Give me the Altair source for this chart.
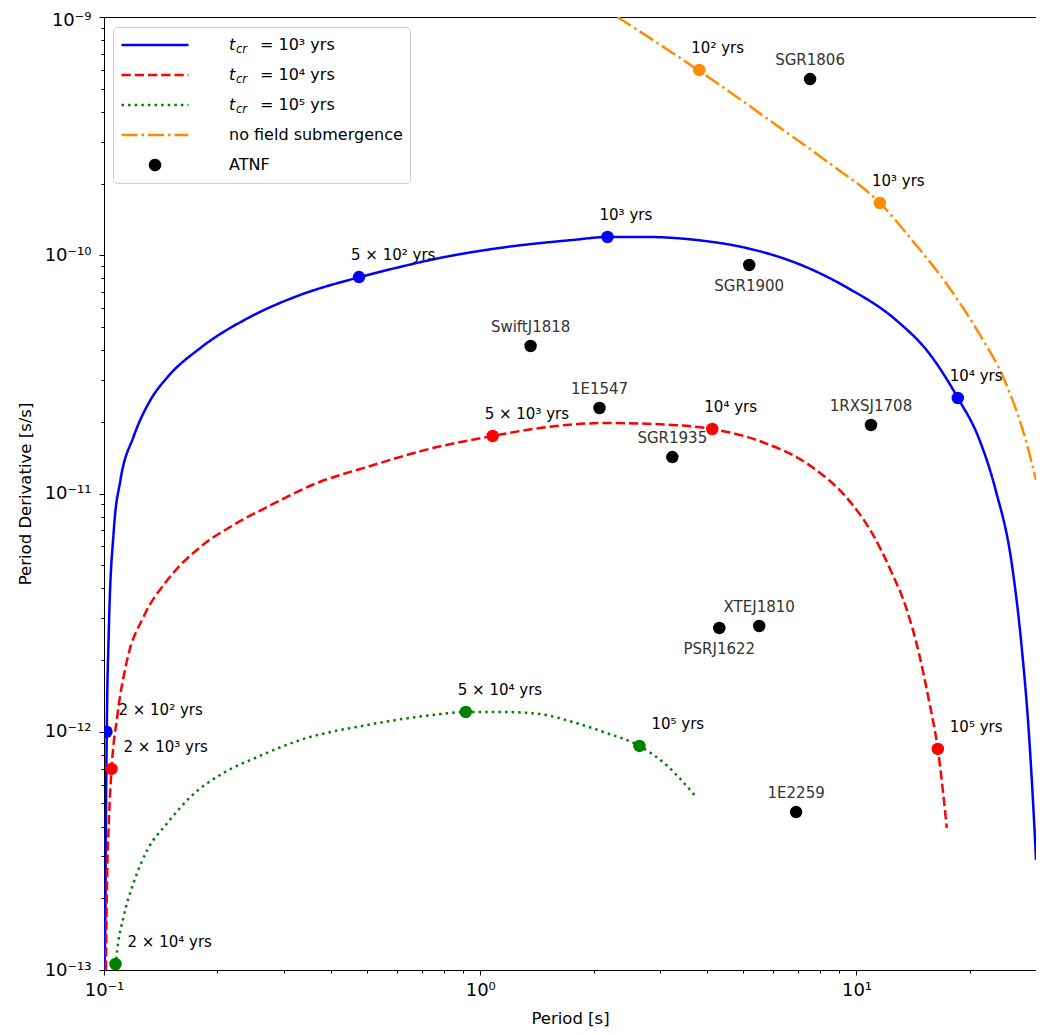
import altair as alt
import pandas as pd

# ---------------- data ----------------
# curve t_cr = 10^3 yrs
blue_P = [0.1003, 0.1009, 0.1012, 0.1017, 0.1030, 0.1062, 0.1106, 0.1198, 0.1329,
          0.1475, 0.1803, 0.2446, 0.3320, 0.4791, 0.6115, 0.7808, 1.176, 1.760,
          2.179, 2.765, 3.753, 5.093, 6.911, 9.379, 12.73, 15.57, 18.59, 21.13,
          23.45, 25.85, 27.48, 28.68, 29.57, 30.0]
blue_Pdot = [1.0e-13, 1.97e-13, 4.26e-13, 1.0e-12, 2.67e-12, 7.03e-12, 1.14e-11,
             1.73e-11, 2.47e-11, 3.08e-11, 4.08e-11, 5.51e-11, 6.81e-11, 8.10e-11,
             8.93e-11, 9.74e-11, 1.083e-10, 1.159e-10, 1.193e-10, 1.193e-10,
             1.159e-10, 1.073e-10, 9.28e-11, 7.36e-11, 5.35e-11, 3.89e-11, 2.52e-11,
             1.71e-11, 1.03e-11, 5.11e-12, 2.27e-12, 1.02e-12, 4.56e-13, 2.90e-13]
# curve t_cr = 10^4 yrs
red_P = [0.1012, 0.1017, 0.1030, 0.1047, 0.1084, 0.1152, 0.1273, 0.1474, 0.1803,
         0.2206, 0.2715, 0.3684, 0.5000, 0.7482, 1.079, 1.438, 2.165, 3.240, 4.138,
         5.615, 7.621, 9.379, 10.99, 12.42, 13.53, 14.65, 15.57, 16.45, 17.38]
red_Pdot = [1.0e-13, 1.97e-13, 4.14e-13, 6.91e-13, 1.153e-12, 2.00e-12, 3.03e-12,
            4.33e-12, 5.96e-12, 7.37e-12, 8.78e-12, 1.107e-11, 1.292e-11, 1.552e-11,
            1.743e-11, 1.883e-11, 1.976e-11, 1.939e-11, 1.865e-11, 1.645e-11,
            1.292e-11, 9.67e-12, 6.83e-12, 4.64e-12, 3.34e-12, 2.14e-12, 1.36e-12,
            8.47e-13, 3.95e-13]
# curve t_cr = 10^5 yrs
green_P = [0.1073, 0.1084, 0.1127, 0.1198, 0.1304, 0.1474, 0.1696, 0.2075, 0.2554,
           0.3321, 0.5000, 0.7482, 0.9153, 1.176, 1.438, 1.760, 2.165, 2.649, 3.123,
           3.730]
green_Pdot = [1.04e-13, 1.21e-13, 1.67e-13, 2.32e-13, 3.19e-13, 4.14e-13, 5.32e-13,
              6.71e-13, 7.83e-13, 9.23e-13, 1.067e-12, 1.176e-12, 1.21e-12, 1.21e-12,
              1.187e-12, 1.099e-12, 9.88e-13, 8.72e-13, 7.25e-13, 5.37e-13]
# no field submergence
orange_P = [2.316, 3.822, 6.230, 8.455, 11.54, 14.04, 17.28, 21.13, 24.92, 28.16, 30.0]
orange_Pdot = [1.0e-9, 5.94e-10, 3.45e-10, 2.44e-10, 1.657e-10, 1.159e-10, 7.65e-11,
               4.72e-11, 2.91e-11, 1.68e-11, 1.14e-11]

# age markers on the curves
marker_series = ["tcr3"] * 4 + ["tcr4"] * 4 + ["tcr5"] * 3 + ["nofield"] * 2
marker_P = [0.1015, 0.4762, 2.179, 18.59, 0.1047, 1.079, 4.138, 16.45, 0.1073,
            0.9153, 2.649, 3.822, 11.54]
marker_Pdot = [1.0e-12, 8.10e-11, 1.193e-10, 2.517e-11, 6.98e-13, 1.743e-11,
               1.865e-11, 8.47e-13, 1.06e-13, 1.21e-12, 8.72e-13, 5.99e-10, 1.657e-10]
marker_labels = ["2 × 10² yrs", "5 × 10² yrs", "10³ yrs", "10⁴ yrs",
                 "2 × 10³ yrs", "5 × 10³ yrs", "10⁴ yrs", "10⁵ yrs",
                 "2 × 10⁴ yrs", "5 × 10⁴ yrs", "10⁵ yrs",
                 "10² yrs", "10³ yrs"]
marker_label_side = ["right", "left", "left", "left", "right", "left", "left", "right",
                     "right", "left", "right", "left", "left"]

# ATNF magnetars
atnf_names = ["SGR1806", "SGR1900", "SwiftJ1818", "1E1547", "SGR1935", "1RXSJ1708",
              "XTEJ1810", "PSRJ1622", "1E2259"]
atnf_P = [7.528, 5.187, 1.361, 2.075, 3.240, 10.93, 5.514, 4.319, 6.911]
atnf_Pdot = [5.49e-10, 9.10e-11, 4.16e-11, 2.285e-11, 1.422e-11, 1.939e-11,
             2.779e-12, 2.726e-12, 4.60e-13]
atnf_label_pos = ["above", "below", "above", "above", "above", "above", "above",
                  "below", "above"]

# series / legend texts
series_keys = ["tcr3", "tcr4", "tcr5", "nofield", "ATNF"]
legend_head = ["t", "t", "t", "no field submergence", "ATNF"]   # first part of each label
legend_sub = ["cr", "cr", "cr", "", ""]                           # subscript part
legend_tail = ["= 10³ yrs", "= 10⁴ yrs", "= 10⁵ yrs", "", ""]     # rest of label

# axis ticks
x_major = [0.1, 1.0, 10.0]
x_major_labels = ["10⁻¹", "10⁰", "10¹"]
y_major = [1e-13, 1e-12, 1e-11, 1e-10, 1e-9]
y_major_labels = ["10⁻¹³", "10⁻¹²", "10⁻¹¹", "10⁻¹⁰", "10⁻⁹"]

# ---------------- styles ----------------
series_colors = ["#0000ff", "#ff0000", "#008000", "#ff8c00", "#000000"]
series_dashes = [[1, 0], [9.25, 4], [2.5, 4.1], [16, 4, 2.5, 4], [1, 0]]
FONT = "DejaVu Sans"

x_ticks = [float(f"{m}e{e}") for e in (-1, 0) for m in range(1, 10)] + [10.0, 20.0, 30.0]
y_ticks = [float(f"{m}e{e}") for e in (-13, -12, -11, -10) for m in range(1, 10)] + [1e-9]


def label_expr(keys, labels, field="datum.value"):
    s = "''"
    for k, l in reversed(list(zip(keys, labels))):
        kk = repr(k) if not isinstance(k, str) else "'" + k + "'"
        s = f"{field} == {kk} ? '{l}' : {s}"
    return s


def member_test(values, field="datum.value"):
    items = ",".join(repr(v) if not isinstance(v, str) else "'" + v + "'" for v in values)
    return f"indexof([{items}], {field}) >= 0"


# ---------------- tables ----------------
rows = []
for key, Ps, Ds in [("tcr3", blue_P, blue_Pdot), ("tcr4", red_P, red_Pdot),
                    ("tcr5", green_P, green_Pdot), ("nofield", orange_P, orange_Pdot)]:
    for i, (p, d) in enumerate(zip(Ps, Ds)):
        rows.append({"series": key, "P": p, "Pdot": d, "idx": i,
                     "lt": "b" + key, "lc": "c" + key})
curves = pd.DataFrame(rows)

markers = pd.DataFrame({"series": marker_series, "P": marker_P, "Pdot": marker_Pdot,
                        "label": marker_labels, "side": marker_label_side})
atnf = pd.DataFrame({"series": ["ATNF"] * len(atnf_names), "P": atnf_P,
                     "Pdot": atnf_Pdot, "name": atnf_names, "pos": atnf_label_pos})

# ---------------- encodings ----------------
x_axis = alt.Axis(values=x_ticks, labelExpr=label_expr(x_major, x_major_labels),
                  tickSize={"condition": {"test": member_test(x_major), "value": 5},
                            "value": 3},
                  grid=False, domain=False, labelFlush=False, labelOverlap=False,
                  tickColor="black", tickWidth=1, labelColor="black", labelFont=FONT,
                  labelFontSize=18, labelPadding=6, titleFont=FONT, titleFontSize=16.5,
                  titleFontWeight="normal", titleColor="black", titlePadding=11)
y_axis = alt.Axis(values=y_ticks, labelExpr=label_expr(y_major, y_major_labels),
                  tickSize={"condition": {"test": member_test(y_major), "value": 5},
                            "value": 3},
                  labelOffset={"condition": {"test": "datum.value == 1e-9", "value": 3},
                               "value": 0},
                  grid=False, domain=False, labelFlush=False, labelOverlap=False,
                  tickColor="black", tickWidth=1, labelColor="black", labelFont=FONT,
                  labelFontSize=18, labelPadding=8, titleFont=FONT, titleFontSize=16.5,
                  titleFontWeight="normal", titleColor="black", titlePadding=11)

x_enc = alt.X("P:Q", title="Period [s]",
              scale=alt.Scale(type="log", domain=[0.1, 30], nice=False), axis=x_axis)
y_enc = alt.Y("Pdot:Q", title="Period Derivative [s/s]",
              scale=alt.Scale(type="log", domain=[1e-13, 1e-9], nice=False), axis=y_axis)

atnf_circle = ("M-0.149,0A0.149,0.149,0,1,0,0.149,0"
               "A0.149,0.149,0,1,0,-0.149,0Z")
b_keys = ["b" + k for k in series_keys]
c_keys = ["c" + k for k in series_keys]

# legend with symbols and the "= 10^n yrs" part
legend_main = alt.Legend(
    title=None, orient="none", legendX=9, legendY=10,
    labelExpr=label_expr(series_keys, legend_tail), labelFont=FONT, labelFontSize=16,
    labelColor="black", labelLimit=400,
    symbolType={"expr": f"datum.value == 'ATNF' ? '{atnf_circle}' : 'stroke'"},
    symbolFillColor={"expr": "datum.value == 'ATNF' ? 'black' : 'transparent'"},
    symbolSize=4489, symbolStrokeWidth=2.5, symbolOffset=0, labelOffset=70,
    padding=7, clipHeight=22, rowPadding=8)
# legend text: italic "t" (or plain text for the other entries) + the frame
legend_headpart = alt.Legend(
    title=None, orient="none", legendX=9, legendY=10,
    labelExpr=label_expr(b_keys, legend_head), labelFont=FONT, labelFontSize=16,
    labelFontStyle={"expr": member_test(b_keys[:3]) + " ? 'italic' : 'normal'"},
    labelColor="black", labelLimit=400,
    symbolType="circle", symbolSize=0, symbolStrokeWidth=0, symbolOpacity=0,
    labelOffset=93, padding=7, strokeColor="#cccccc", cornerRadius=4,
    clipHeight=22, rowPadding=8)
# legend text: italic subscript "cr"
legend_subpart = alt.Legend(
    title=None, orient="none", legendX=120.5, legendY=22,
    labelExpr=label_expr(c_keys, legend_sub), labelFont=FONT,
    labelFontSize=11.5, labelFontStyle="italic", labelColor="black",
    symbolType="circle", symbolSize=0, symbolStrokeWidth=0, symbolOpacity=0,
    labelOffset=0, padding=0, clipHeight=22, rowPadding=8)

color_enc = alt.Color("series:N", scale=alt.Scale(domain=series_keys, range=series_colors),
                      legend=legend_main)
dash_enc = alt.StrokeDash("series:N",
                          scale=alt.Scale(domain=series_keys, range=series_dashes),
                          legend=legend_main)
opac_enc = alt.Opacity("lt:N", scale=alt.Scale(domain=b_keys, range=[1, 1, 1, 1, 1]),
                       legend=legend_headpart)
sw_enc = alt.StrokeWidth("lc:N", scale=alt.Scale(domain=c_keys,
                                                 range=[2.5, 2.5, 2.5, 2.5, 2.5]),
                         legend=legend_subpart)

# ---------------- layers ----------------
layers = []
for key in ["tcr3", "tcr4", "tcr5", "nofield"]:
    layers.append(
        alt.Chart(curves).transform_filter(alt.datum.series == key)
        .mark_line(strokeWidth=2.5, clip=True, interpolate="monotone")
        .encode(x=x_enc, y=y_enc, order="idx:Q", color=color_enc, strokeDash=dash_enc,
                opacity=opac_enc, strokeWidth=sw_enc)
    )

layers.append(alt.Chart(markers).mark_circle(size=156, opacity=1, clip=True)
              .encode(x=x_enc, y=y_enc, color=color_enc))
layers.append(alt.Chart(atnf).mark_circle(size=156, opacity=1, clip=True)
              .encode(x=x_enc, y=y_enc, color=color_enc))

text_base = dict(font=FONT, fontSize=15, baseline="middle")
layers.append(alt.Chart(markers).transform_filter(alt.datum.side == "right")
              .mark_text(align="left", dx=12, dy=-22, color="black", **text_base)
              .encode(x=x_enc, y=y_enc, text="label:N"))
layers.append(alt.Chart(markers).transform_filter(alt.datum.side == "left")
              .mark_text(align="left", dx=-8, dy=-22, color="black", **text_base)
              .encode(x=x_enc, y=y_enc, text="label:N"))
layers.append(alt.Chart(atnf).transform_filter(alt.datum.pos == "above")
              .mark_text(align="center", dy=-19, color="#333333", **text_base)
              .encode(x=x_enc, y=y_enc, text="name:N"))
layers.append(alt.Chart(atnf).transform_filter(alt.datum.pos == "below")
              .mark_text(align="center", dy=21, color="#333333", **text_base)
              .encode(x=x_enc, y=y_enc, text="name:N"))

chart = (
    alt.layer(*layers)
    .properties(width=932, height=953,
                padding={"left": 96, "top": 9, "right": 0, "bottom": 57},
                autosize=alt.AutoSizeParams(type="none"), background="white")
    .configure(font=FONT)
    .configure_view(stroke="black", strokeWidth=1)
)

chart.save("out.html", embed_options={"renderer": "svg", "actions": False})
